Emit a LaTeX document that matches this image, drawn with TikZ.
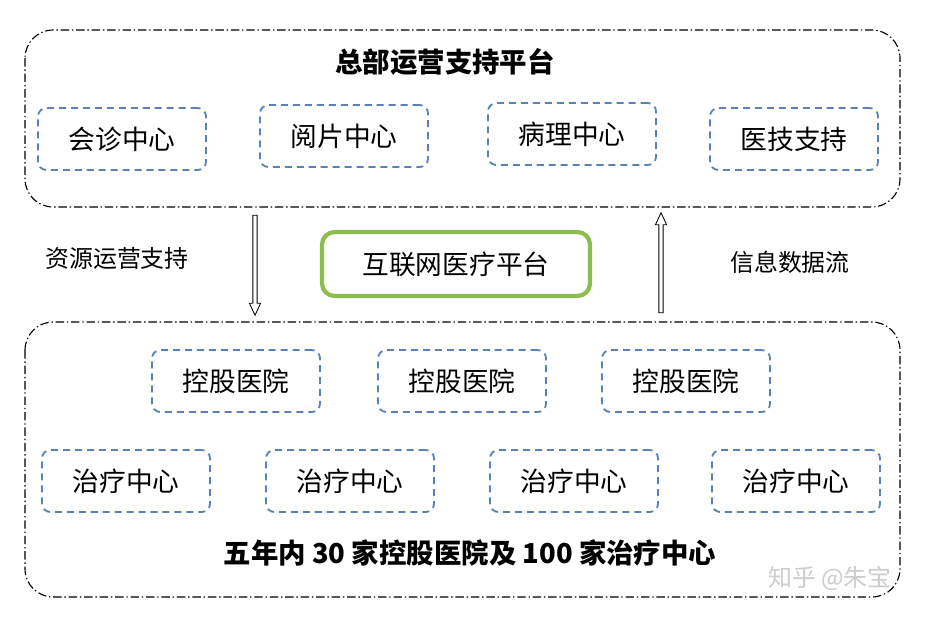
\documentclass[tikz,border=0pt]{standalone}
\usepackage{fontspec}
\setmainfont{Noto Sans CJK SC}
\usetikzlibrary{shapes.arrows}
\definecolor{boxblue}{HTML}{5B82B5}
\definecolor{platgreen}{HTML}{8DBD4E}
\tikzset{
  panel/.style={draw,thick,dash pattern=on 6pt off 2pt on 1pt off 2pt,rounded corners=20pt},
  unit/.style={draw=boxblue,line width=1.3pt,dash pattern=on 5pt off 3.5pt,rounded corners=6pt,minimum width=4.2cm,
               minimum height=1.55cm,font=\fontsize{19}{19}\selectfont},
  flow/.style={draw,single arrow,single arrow head extend=2.5pt,single arrow tip angle=50,
               minimum height=2.5cm,inner sep=1.2pt,semithick},
  caption/.style={font=\fontsize{17}{17}\selectfont}
}
\begin{document}
\begin{tikzpicture}[x=0.025cm,y=-0.025cm]
  \useasboundingbox (0,0) rectangle (925,619);
  % PANELS
  \draw[panel] (25,30) rectangle (900,207);
  \draw[panel] (25,322) rectangle (900,597);
  \node[font=\bfseries\fontsize{19.5}{19.5}\selectfont] (hq) at (445,62) {总部运营支持平台};
  \node[font=\bfseries\fontsize{19.5}{19.5}\selectfont] (goal) at (470,553) {五年内 30 家控股医院及 100 家治疗中心};
  % HEADQUARTER UNITS
  \node[unit] (consult) at (122,139) {会诊中心};
  \node[unit] (reading) at (344,136) {阅片中心};
  \node[unit] (patho)   at (572,134) {病理中心};
  \node[unit] (medtech) at (794,139) {医技支持};
  % PLATFORM
  \node[draw=platgreen,line width=3pt,rounded corners=9pt,minimum width=6.7cm,
        minimum height=1.6cm,font=\fontsize{19}{19}\selectfont] (web) at (456,264) {互联网医疗平台};
  \node[flow,rotate=-90] (down) at (255,263) {};
  \node[flow,rotate=90] (up) at (661,265) {};
  \node[caption] (res) at (117,258) {资源运营支持};
  \node[caption] (info) at (790,262) {信息数据流};
  % LOCAL UNITS
  \foreach \x [count=\i] in {236,462,686}
    \node[unit] (hosp\i) at (\x,381) {控股医院};
  \foreach \x [count=\i] in {126,350,574,796}
    \node[unit] (cure\i) at (\x,481) {治疗中心};
  \node[text=gray!40,font=\fontsize{17}{17}\selectfont] (mark) at (830,578) {知乎 @朱宝};
\end{tikzpicture}
\end{document}
